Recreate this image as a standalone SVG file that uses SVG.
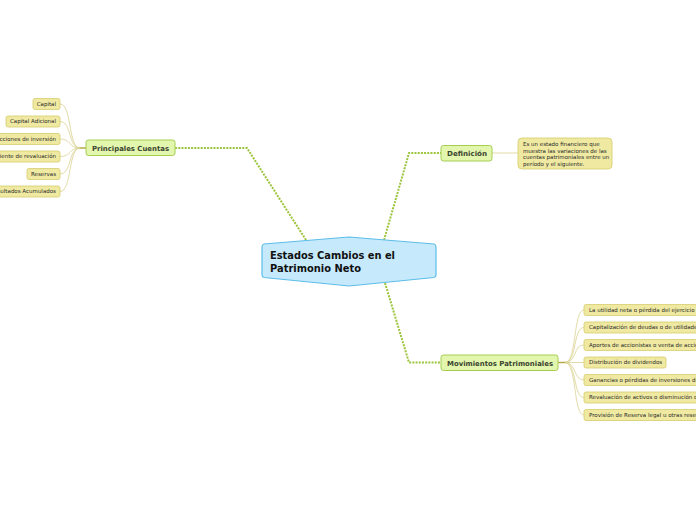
<svg xmlns="http://www.w3.org/2000/svg" width="696" height="520" viewBox="0 0 696 520">
<style>
.main{fill:none;stroke:#9cc43c;stroke-width:2;stroke-dasharray:2 1.2}
.sub{fill:none;stroke:#d9d290;stroke-width:0.8}
.stub{fill:none;stroke:#b9a94a;stroke-width:1.5}
.topic{fill:#e2f6ad;stroke:#a6ce52;stroke-width:1}
.leaf{fill:#efe9a2;stroke:#d6cd6c;stroke-width:0.8}
.tt{font-family:"DejaVu Sans",Verdana,sans-serif;font-weight:bold;font-size:7px;fill:#3b4430}
.lt{font-family:"DejaVu Sans",Verdana,sans-serif;font-size:5.5px;fill:#2a2a2a}
.ct{font-family:"DejaVu Sans",Verdana,sans-serif;font-weight:bold;font-size:10px;fill:#111}
</style>
<rect width="696" height="520" fill="#fff"/>
<g id="connectors">
<path class="main" d="M306,240 L247,148 L175,148"/>
<path class="main" d="M384,240 L409,153 L441,153"/>
<path class="main" d="M385,283 L409,362.5 L441,362.5"/>
<path class="sub" d="M492,153 L518,153"/>
<path class="stub" d="M86,148 L79,148"/>
<path class="sub" d="M80,148 C68,148 72,104 60,104"/>
<path class="sub" d="M80,148 C68,148 72,121.5 60,121.5"/>
<path class="sub" d="M80,148 C68,148 72,139 60,139"/>
<path class="sub" d="M80,148 C68,148 72,156.5 60,156.5"/>
<path class="sub" d="M80,148 C68,148 72,174 60,174"/>
<path class="sub" d="M80,148 C68,148 72,191.5 60,191.5"/>
<path class="stub" d="M558,362.5 L566,362.5"/>
<path class="sub" d="M565,362.5 C577,362.5 573,310 584,310"/>
<path class="sub" d="M565,362.5 C577,362.5 573,327.5 584,327.5"/>
<path class="sub" d="M565,362.5 C577,362.5 573,345 584,345"/>
<path class="sub" d="M565,362.5 L584,362.5"/>
<path class="sub" d="M565,362.5 C577,362.5 573,380 584,380"/>
<path class="sub" d="M565,362.5 C577,362.5 573,397.5 584,397.5"/>
<path class="sub" d="M565,362.5 C577,362.5 573,415 584,415"/>
</g>
<g id="central">
<path d="M264,244 L349,237 L434,244 Q436,244.5 436,247 L436,275 Q436,277 434,277.5 L349,286 L264,277.5 Q262,277 262,275 L262,247 Q262,244.5 264,244 Z" fill="#c6eafc" stroke="#5cbde9" stroke-width="1.2"/>
<text class="ct" x="270" y="259" textLength="125" lengthAdjust="spacingAndGlyphs">Estados Cambios en el</text>
<text class="ct" x="270" y="272" textLength="91" lengthAdjust="spacingAndGlyphs">Patrimonio Neto</text>
</g>
<g id="principales">
<rect class="topic" x="86" y="140" width="89" height="15.5" rx="2.5"/>
<text class="tt" x="92" y="150.5" textLength="77" lengthAdjust="spacingAndGlyphs">Principales Cuentas</text>
</g>
<g id="definicion">
<rect class="topic" x="441" y="145.5" width="51" height="15.5" rx="2.5"/>
<text class="tt" x="447" y="156" textLength="40" lengthAdjust="spacingAndGlyphs">Definición</text>
</g>
<g id="movimientos">
<rect class="topic" x="441" y="355" width="117" height="15.5" rx="2.5"/>
<text class="tt" x="447" y="365.5" textLength="106" lengthAdjust="spacingAndGlyphs">Movimientos Patrimoniales</text>
</g>
<g id="def-text">
<rect class="leaf" x="518" y="138" width="94" height="31" rx="4"/>
<text class="lt" x="523" y="146">Es un estado financiero que</text>
<text class="lt" x="523" y="152.5">muestra las variaciones de las</text>
<text class="lt" x="523" y="159">cuentas patrimoniales entre un</text>
<text class="lt" x="523" y="165.5">período y el siguiente.</text>
</g>
<g id="leaf-capital">
<rect class="leaf" x="33" y="98.5" width="27" height="11" rx="2"/>
<text class="lt" x="56" y="105.9" text-anchor="end">Capital</text>
</g>
<g id="leaf-capital-adicional">
<rect class="leaf" x="6" y="116" width="54" height="11" rx="2"/>
<text class="lt" x="56" y="123.4" text-anchor="end">Capital Adicional</text>
</g>
<g id="leaf-inversion">
<rect class="leaf" x="-40" y="133.5" width="100" height="11" rx="2"/>
<text class="lt" x="56" y="140.9" text-anchor="end">Transacciones de inversión</text>
</g>
<g id="leaf-revaluacion">
<rect class="leaf" x="-40" y="151" width="100" height="11" rx="2"/>
<text class="lt" x="56" y="158.4" text-anchor="end">Superávit pendiente de revaluación</text>
</g>
<g id="leaf-reservas">
<rect class="leaf" x="27" y="168.5" width="33" height="11" rx="2"/>
<text class="lt" x="56" y="175.9" text-anchor="end">Reservas</text>
</g>
<g id="leaf-resultados">
<rect class="leaf" x="-40" y="186" width="100" height="11" rx="2"/>
<text class="lt" x="56" y="193.4" text-anchor="end">Resultados Acumulados</text>
</g>
<g id="mov-1">
<rect class="leaf" x="584" y="304.5" width="130" height="11" rx="2"/>
<text class="lt" x="589" y="311.9">La utilidad neta o pérdida del ejercicio</text>
</g>
<g id="mov-2">
<rect class="leaf" x="584" y="322" width="130" height="11" rx="2"/>
<text class="lt" x="589" y="329.4">Capitalización de deudas o de utilidades</text>
</g>
<g id="mov-3">
<rect class="leaf" x="584" y="339.5" width="130" height="11" rx="2"/>
<text class="lt" x="589" y="346.9">Aportes de accionistas o venta de acciones</text>
</g>
<g id="mov-4">
<rect class="leaf" x="584" y="357" width="82" height="11" rx="2"/>
<text class="lt" x="589" y="364.4">Distribución de dividendos</text>
</g>
<g id="mov-5">
<rect class="leaf" x="584" y="374.5" width="130" height="11" rx="2"/>
<text class="lt" x="589" y="381.9">Ganancias o pérdidas de inversiones disponibles</text>
</g>
<g id="mov-6">
<rect class="leaf" x="584" y="392" width="130" height="11" rx="2"/>
<text class="lt" x="589" y="399.4">Revaluación de activos o disminución de valor</text>
</g>
<g id="mov-7">
<rect class="leaf" x="584" y="409.5" width="130" height="11" rx="2"/>
<text class="lt" x="589" y="416.9">Provisión de Reserva legal u otras reservas</text>
</g>
</svg>
